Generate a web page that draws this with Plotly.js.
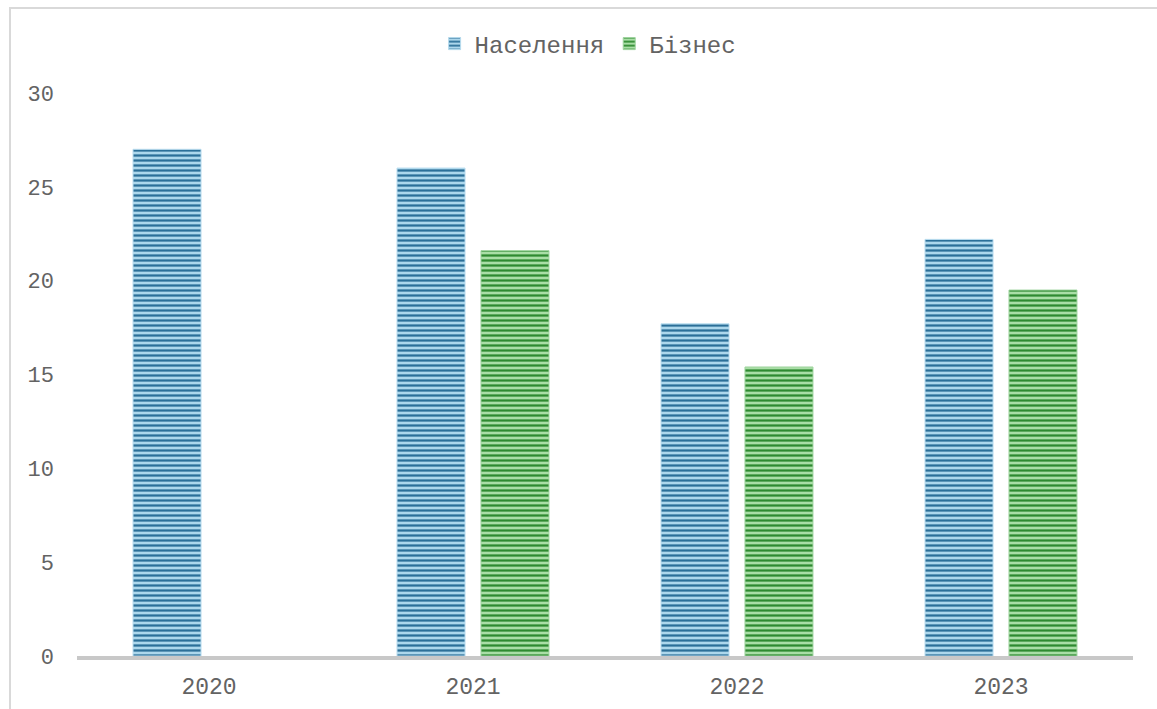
<!DOCTYPE html>
<html>
<head>
<meta charset="utf-8">
<script src="https://cdn.plot.ly/plotly-3.0.1.min.js"></script>
<style>
html,body{margin:0;padding:0;background:#fff;}
#wrap{position:relative;width:1157px;height:709px;}
#chart{position:absolute;left:0;top:0;width:1157px;height:709px;}
#frame{position:absolute;left:9px;top:7px;width:1148px;height:702px;border-left:2px solid #d9d9d9;border-top:2px solid #d9d9d9;pointer-events:none;}
</style>
</head>
<body>
<div id="wrap"><div id="chart"></div><div id="frame"></div></div>
<script>
const years = ['2020', '2021', '2022', '2023'];
const naselennia = [27.0, 26.0, 17.7, 22.2];
const biznes = [null, 21.6, 15.4, 19.5];
const seriesNames = ['Населення', 'Бізнес'];

const font = 'Liberation Mono, Courier New, monospace';

const traces = [
  {
    type: 'bar', name: seriesNames[0], x: years, y: naselennia,
    marker: {
      color: '#9fcfe6',
      line: {width: 1, color: '#b7dbee'},
      pattern: {shape: '-', fgcolor: '#2b6f98', bgcolor: '#acd7ec', size: 5, solidity: 0.45, fillmode: 'replace'}
    },
    hoverinfo: 'x+y'
  },
  {
    type: 'bar', name: seriesNames[1], x: years, y: biznes,
    marker: {
      color: '#8fd18f',
      line: {width: 1, color: '#9fd49f'},
      pattern: {shape: '-', fgcolor: '#2e8a30', bgcolor: '#a9dea6', size: 5, solidity: 0.45, fillmode: 'replace'}
    },
    hoverinfo: 'x+y'
  }
];

const layout = {
  width: 1157, height: 709,
  margin: {l: 77, r: 24, t: 93, b: 53},
  paper_bgcolor: '#ffffff', plot_bgcolor: '#ffffff',
  barmode: 'group', bargap: 0.364, bargroupgap: 0.19,
  font: {family: font, color: '#636363', size: 22},
  showlegend: true,
  legend: {
    orientation: 'h', x: 0.484, xanchor: 'center', y: 1.087, yanchor: 'middle',
    font: {family: font, size: 24, color: '#636363'},
    itemwidth: 30, traceorder: 'normal'
  },
  xaxis: {
    type: 'category', showgrid: false, zeroline: false,
    showline: true, linecolor: '#c8c8c8', linewidth: 4,
    ticks: '', tickfont: {family: font, size: 23, color: '#636363'},
    ticklabelstandoff: 6
  },
  yaxis: {
    range: [0, 30], dtick: 5, showgrid: false, zeroline: false,
    showline: false, ticks: '',
    tickfont: {family: font, size: 22, color: '#636363'},
    ticklabelstandoff: 22
  }
};

Plotly.newPlot('chart', traces, layout, {displayModeBar: false, staticPlot: true});
</script>
</body>
</html>
